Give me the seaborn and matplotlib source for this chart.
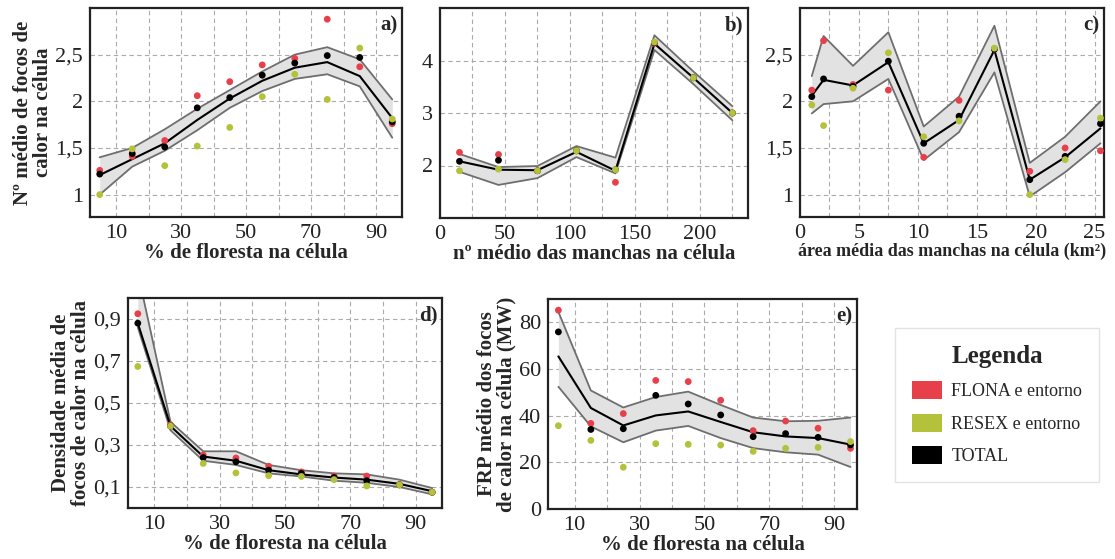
import matplotlib
matplotlib.use("Agg")
import matplotlib.pyplot as plt
from matplotlib.patches import Patch
from matplotlib.ticker import FuncFormatter, FixedLocator
import seaborn as sns
import pandas as pd

# eixos x
floresta = [5, 15, 25, 35, 45, 55, 65, 75, 85, 95]
manchas = [15, 45, 75, 105, 135, 165, 195, 225]
area = [1, 2, 4.5, 7.5, 10.5, 13.5, 16.5, 19.5, 22.5, 25.5]

# a) nº médio de focos x % floresta
a_flona = [1.26, 1.41, 1.58, 2.06, 2.21, 2.39, 2.46, 2.88, 2.37, 1.76]
a_resex = [1.00, 1.49, 1.31, 1.52, 1.72, 2.05, 2.29, 2.02, 2.57, 1.81]
a_total = [1.22, 1.44, 1.51, 1.93, 2.04, 2.28, 2.41, 2.49, 2.47, 1.78]
a_fit = [1.21, 1.38, 1.55, 1.80, 2.03, 2.22, 2.36, 2.42, 2.27, 1.82]
a_lo = [1.00, 1.30, 1.47, 1.69, 1.93, 2.11, 2.24, 2.29, 2.16, 1.61]
a_hi = [1.40, 1.50, 1.70, 1.92, 2.12, 2.32, 2.50, 2.58, 2.45, 2.02]

# b) nº médio de focos x nº médio de manchas
b_flona = [2.25, 2.21, 1.90, 2.28, 1.68, 4.33, 3.67, 3.00]
b_resex = [1.90, 1.93, 1.90, 2.28, 1.92, 4.35, 3.67, 3.00]
b_total = [2.08, 2.10, 1.90, 2.28, 1.92, 4.34, 3.67, 3.00]
b_fit = [2.08, 1.92, 1.91, 2.26, 1.90, 4.32, 3.67, 3.00]
b_lo = [1.88, 1.63, 1.76, 2.16, 1.85, 4.20, 3.55, 2.86]
b_hi = [2.22, 1.97, 1.99, 2.37, 2.15, 4.48, 3.79, 3.13]

# c) nº médio de focos x área média das manchas
c_flona = [2.12, 2.65, 2.18, 2.12, 1.40, 2.01, 2.56, 1.25, 1.50, 1.47]
c_resex = [1.96, 1.74, 2.14, 2.52, 1.62, 1.79, 2.57, 1.00, 1.375, 1.82]
c_total = [2.05, 2.24, 2.16, 2.43, 1.55, 1.84, 2.56, 1.16, 1.41, 1.76]
c_fit = [2.06, 2.23, 2.17, 2.42, 1.55, 1.80, 2.55, 1.16, 1.40, 1.71]
c_lo = [1.87, 1.97, 2.00, 2.24, 1.37, 1.67, 2.31, 0.98, 1.24, 1.55]
c_hi = [2.27, 2.70, 2.38, 2.74, 1.73, 2.05, 2.81, 1.34, 1.62, 2.00]

# d) densidade média de focos x % floresta
d_flona = [0.925, 0.396, 0.252, 0.238, 0.199, 0.172, 0.152, 0.152, 0.112, 0.075]
d_resex = [0.674, 0.390, 0.212, 0.167, 0.154, 0.150, 0.135, 0.105, 0.110, 0.075]
d_total = [0.880, 0.390, 0.240, 0.220, 0.180, 0.165, 0.145, 0.130, 0.110, 0.075]
d_fit = [0.880, 0.390, 0.245, 0.225, 0.180, 0.160, 0.145, 0.135, 0.115, 0.080]
d_lo = [0.860, 0.370, 0.225, 0.205, 0.165, 0.150, 0.130, 0.120, 0.100, 0.065]
d_hi = [1.120, 0.410, 0.270, 0.270, 0.205, 0.180, 0.165, 0.160, 0.135, 0.095]

# e) FRP médio x % floresta
e_flona = [85.2, 36.7, 40.9, 55.1, 54.6, 46.6, 33.6, 37.7, 34.6, 26.0]
e_resex = [35.7, 29.4, 17.9, 28.0, 27.7, 27.4, 24.7, 26.0, 26.4, 28.9]
e_total = [75.9, 34.1, 34.4, 48.7, 45.0, 40.3, 31.0, 32.3, 30.7, 27.5]
e_fit = [65.4, 43.3, 35.8, 40.1, 41.8, 37.3, 32.9, 31.1, 30.4, 27.6]
e_lo = [52.4, 35.4, 28.6, 33.6, 35.6, 30.4, 26.1, 24.3, 23.3, 18.0]
e_hi = [84.5, 50.8, 43.5, 48.0, 50.3, 44.6, 39.2, 37.6, 37.8, 39.2]

grupos = ["FLONA e entorno", "RESEX e entorno", "TOTAL"]
cores = {"FLONA e entorno": "#e8404a", "RESEX e entorno": "#b3c23a", "TOTAL": "#000000"}

sns.set_style("white")
plt.rcParams["font.family"] = ["Liberation Serif", "DejaVu Serif"]
plt.rcParams["axes.unicode_minus"] = False


def virgula(v, pos):
    return ("%g" % v).replace(".", ",")


def painel(ax, x, flona, resex, total, fit, lo, hi, xt, xminor, yt, xlim, ylim,
           xlabel, ylabel, letra, xlsize=15):
    ax.fill_between(x, lo, hi, color="#e2e2e2", lw=0, zorder=1)
    sns.lineplot(x=x, y=lo, color="#6e6e6e", lw=1.3, ax=ax, zorder=2)
    sns.lineplot(x=x, y=hi, color="#6e6e6e", lw=1.3, ax=ax, zorder=2)
    sns.lineplot(x=x, y=fit, color="black", lw=1.5, ax=ax, zorder=3)
    # ordem de desenho: FLONA, TOTAL, RESEX
    df = pd.concat([
        pd.DataFrame({"x": x, "y": flona, "grupo": grupos[0]}),
        pd.DataFrame({"x": x, "y": total, "grupo": grupos[2]}),
        pd.DataFrame({"x": x, "y": resex, "grupo": grupos[1]}),
    ])
    sns.scatterplot(data=df, x="x", y="y", hue="grupo", palette=cores, s=24,
                    linewidth=0, legend=False, ax=ax, zorder=4)
    ax.set_xlim(*xlim)
    ax.set_ylim(*ylim)
    ax.xaxis.set_major_locator(FixedLocator(xt))
    ax.xaxis.set_minor_locator(FixedLocator(xminor))
    ax.yaxis.set_major_locator(FixedLocator(yt))
    ax.yaxis.set_major_formatter(FuncFormatter(virgula))
    ax.xaxis.set_major_formatter(FuncFormatter(virgula))
    ax.grid(True, which="major", axis="both", ls=(0, (4, 3)), color="#aaaaaa", lw=0.8)
    ax.grid(True, which="minor", axis="x", ls=(0, (4, 3)), color="#aaaaaa", lw=0.8)
    ax.set_axisbelow(True)
    ax.tick_params(axis="both", which="major", direction="out", length=4, width=1,
                   color="#333333", labelsize=16, pad=1, labelcolor="#222222")
    ax.tick_params(axis="both", which="minor", length=0)
    for sp in ax.spines.values():
        sp.set_color("#222222")
        sp.set_linewidth(1.6)
    ax.set_xlabel(xlabel, fontsize=xlsize, fontweight="bold", labelpad=0)
    ax.set_ylabel(ylabel, fontsize=15, fontweight="bold", labelpad=2, linespacing=0.95)
    ax.text(0.985, 0.965, letra, transform=ax.transAxes, ha="right", va="top",
            fontsize=15, fontweight="bold")


W, H = 1115, 559
fig = plt.figure(figsize=(W / 100, H / 100), dpi=100)


def eixo(x0, x1, y0, y1):
    return fig.add_axes([x0 / W, 1 - y1 / H, (x1 - x0) / W, (y1 - y0) / H])


ax_a = eixo(90, 402, 8, 217)
ax_b = eixo(440, 748, 8, 218)
ax_c = eixo(800, 1104, 8, 217)
ax_d = eixo(128, 442, 298, 508)
ax_e = eixo(548, 857, 299, 509)

painel(ax_a, floresta, a_flona, a_resex, a_total, a_fit, a_lo, a_hi,
       [10, 30, 50, 70, 90], [20, 40, 60, 80], [1, 1.5, 2, 2.5], (2, 98), (0.76, 3.0),
       "% de floresta na célula", "Nº médio de focos de\ncalor na célula", "a)")
painel(ax_b, manchas, b_flona, b_resex, b_total, b_fit, b_lo, b_hi,
       [0, 50, 100, 150, 200], [25, 75, 125, 175, 225], [2, 3, 4], (0, 237), (1, 5),
       "nº médio das manchas na célula", "", "b)")
painel(ax_c, area, c_flona, c_resex, c_total, c_fit, c_lo, c_hi,
       [0, 5, 10, 15, 20, 25], [2.5, 7.5, 12.5, 17.5, 22.5], [1, 1.5, 2, 2.5], (0, 25.8), (0.76, 3.0),
       "área média das manchas na célula (km²)", "", "c)", xlsize=13)
painel(ax_d, floresta, d_flona, d_resex, d_total, d_fit, d_lo, d_hi,
       [10, 30, 50, 70, 90], [20, 40, 60, 80], [0.1, 0.3, 0.5, 0.7, 0.9], (2, 98), (0, 1.0),
       "% de floresta na célula", "Densidade média de\nfocos de calor na célula", "d)")
painel(ax_e, floresta, e_flona, e_resex, e_total, e_fit, e_lo, e_hi,
       [10, 30, 50, 70, 90], [20, 40, 60, 80], [0, 20, 40, 60, 80], (1.8, 97), (0, 90),
       "% de floresta na célula", "FRP médio dos focos\nde calor na célula (MW)", "e)")

handles = [Patch(facecolor=cores[g], edgecolor="none", label=g) for g in grupos]
leg = fig.legend(handles=handles, title="Legenda", loc="center",
                 bbox_to_anchor=(997 / W, 1 - 405 / H), fontsize=13,
                 title_fontproperties={"weight": "bold", "size": 18},
                 handlelength=1.7, handleheight=1.15, handletextpad=0.5,
                 labelspacing=0.75, borderpad=0.9, frameon=True, fancybox=False)
leg.get_frame().set_edgecolor("#dddddd")
leg.get_frame().set_linewidth(1.0)

fig.savefig("out.png", dpi=100)
